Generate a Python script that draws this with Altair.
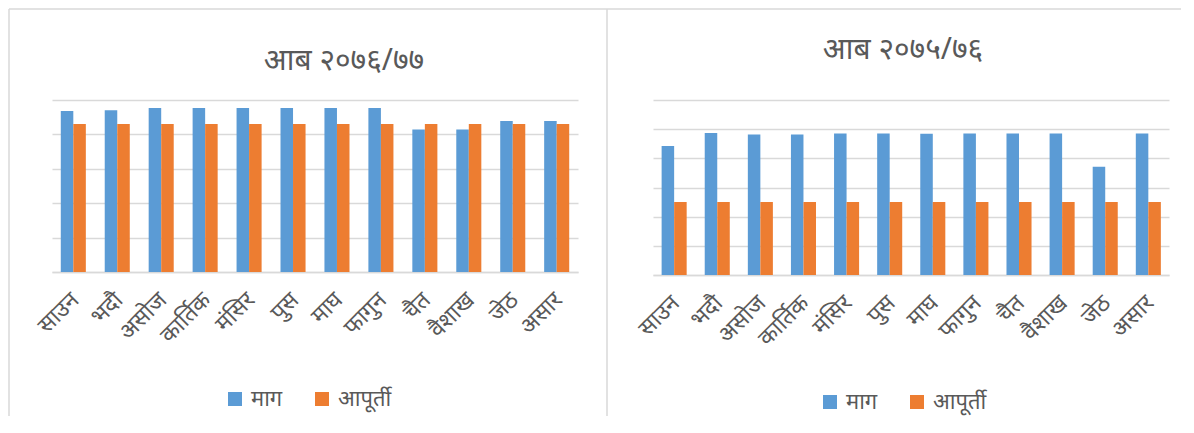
import altair as alt
import pandas as pd

months = ["साउन", "भदौ", "असोज", "कार्तिक", "मंसिर", "पुस", "माघ", "फागुन", "चैत", "वैशाख", "जेठ", "असार"]
series_names = ["माग", "आपूर्ती"]
demand_7677 = [468, 470, 477, 477, 477, 477, 477, 477, 414, 414, 439, 439]
supply_7677 = [430, 430, 430, 430, 430, 430, 430, 430, 430, 430, 430, 430]
demand_7576 = [442, 487, 482, 482, 485, 485, 484, 485, 485, 485, 371, 485]
supply_7576 = [250, 250, 250, 250, 250, 250, 250, 250, 250, 250, 250, 250]
title_7677 = "आब २०७६/७७"
title_7576 = "आब २०७५/७६"
colors = ["#5B9BD5", "#ED7D31"]

FONT = "Noto Sans"
TXT = "#595959"
GRID = "#D9D9D9"


def frame(dem, sup):
    rows = []
    for m, d, s in zip(months, dem, sup):
        rows.append({"month": m, "series": series_names[0], "value": d})
        rows.append({"month": m, "series": series_names[1], "value": s})
    return pd.DataFrame(rows)


def panel(df, title, ymax, w, h, tx, ty, lx, ly, border=None):
    one = pd.DataFrame({"t": [title]})
    bars = alt.Chart(df).mark_bar().encode(
        x=alt.X("month:N", sort=months, title=None,
                scale=alt.Scale(paddingInner=0.43, paddingOuter=0.2),
                axis=alt.Axis(labelAngle=-45, labelAlign="right", labelBaseline="middle",
                              labelFontSize=23, labelColor=TXT, labelFont=FONT,
                              labelPadding=24, labelOffset=2, ticks=False,
                              domainColor=GRID, domainWidth=1.5, grid=False)),
        xOffset=alt.XOffset("series:N", sort=series_names),
        y=alt.Y("value:Q", title=None,
                scale=alt.Scale(domain=[0, ymax], nice=False),
                axis=alt.Axis(labels=False, ticks=False, domain=False,
                              values=list(range(0, ymax + 1, 100)),
                              gridColor=GRID, gridWidth=1.5)),
        color=alt.Color("series:N", sort=series_names,
                        scale=alt.Scale(domain=series_names, range=colors),
                        legend=alt.Legend(title=None, orient="none", legendX=lx, legendY=ly,
                                          direction="horizontal", symbolType="square",
                                          symbolSize=196, symbolStrokeWidth=0,
                                          labelFontSize=22, labelColor=TXT, labelFont=FONT,
                                          columnPadding=28, labelOffset=5)),
    )
    ttl = alt.Chart(one).mark_text(fontSize=30, color=TXT, font=FONT, align="center",
                                   baseline="middle").encode(
        text="t:N", x=alt.value(tx), y=alt.value(ty))
    layers = [bars, ttl]
    if border is not None:
        bx, by, bx2, bdiv, bbot = border
        lines = pd.DataFrame({"k": [0]})
        top = alt.Chart(lines).mark_rule(color=GRID, strokeWidth=1.5).encode(
            x=alt.value(bx), x2=alt.value(bx2), y=alt.value(by))
        left = alt.Chart(lines).mark_rule(color=GRID, strokeWidth=1.5).encode(
            x=alt.value(bx), y=alt.value(by), y2=alt.value(bbot))
        div = alt.Chart(lines).mark_rule(color=GRID, strokeWidth=1.5).encode(
            x=alt.value(bdiv), y=alt.value(by), y2=alt.value(bbot))
        layers = [top, left, div, bars, ttl]
    return alt.layer(*layers).properties(width=w, height=h)


left = panel(frame(demand_7677, supply_7677), title_7677, 500, 526, 172,
             292, -39, 172, 288, border=(-43, -91, 1129, 555, 316))
right = panel(frame(demand_7576, supply_7576), title_7576, 600, 516, 175,
              250, -50, 166, 291)

chart = alt.hconcat(left, right, spacing=75, bounds="flush").resolve_scale(
    color="independent", x="independent", y="independent"
).properties(padding=0, background="white").configure_view(stroke=None)

chart.save("out.html", embed_options={"renderer": "svg", "actions": False})
